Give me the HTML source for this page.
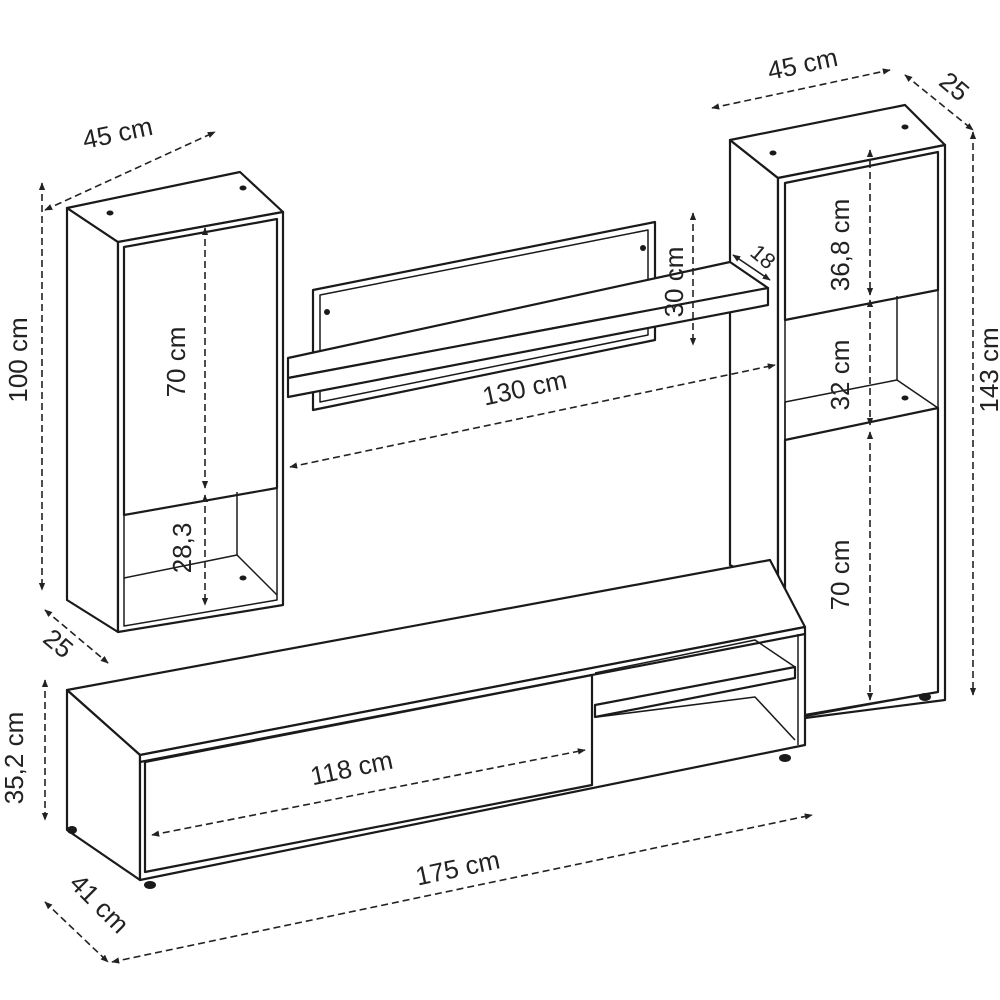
<!DOCTYPE html>
<html><head><meta charset="utf-8"><style>html,body{margin:0;background:#fff}svg{display:block}</style></head><body>
<svg width="1000" height="1000" viewBox="0 0 1000 1000" xmlns="http://www.w3.org/2000/svg">
<defs>
<marker id="a" viewBox="0 0 10 10" refX="9" refY="5" markerWidth="5" markerHeight="5" orient="auto-start-reverse"><path d="M0,1 L10,5 L0,9z" fill="#222"/></marker>
</defs>
<g fill="#fff" stroke="#1a1a1a" stroke-width="2.2" stroke-linejoin="round">
<!-- wall panel -->
<polygon points="313,290 655,222 655,340 313,410"/>
<polygon points="320,295 648,230 648,335 320,402" fill="none" stroke-width="1.5"/>
<!-- left cabinet -->
<polygon points="67,208 118,242 118,632 67,600"/>
<polygon points="67,208 240,172 283,212 118,242"/>
<polygon points="118,242 283,212 283,605 118,632"/>
<polygon points="124,247 277,219 277,600 124,626" fill="none" stroke-width="1.5"/>
<polygon points="124,247 277,219 277,488 124,515"/>
<polyline points="124,578 237,555 277,595" fill="none" stroke-width="1.5"/>
<line x1="237" y1="492" x2="237" y2="555" stroke-width="1.5"/>
<!-- right cabinet -->
<polygon points="730,140 778,178 778,590 730,565"/>
<polygon points="730,140 905,105 945,145 778,178"/>
<polygon points="778,178 945,145 945,700 805,718 785,718 778,600"/>
<polygon points="785,183 938,152 938,692 785,720" fill="none" stroke-width="1.5"/>
<polygon points="785,183 938,152 938,290 785,320"/>
<polygon points="785,402 897,380 938,408 785,440" fill="none" stroke-width="1.5"/>
<line x1="897" y1="296" x2="897" y2="380" stroke-width="1.5"/>
<polygon points="785,440 938,408 938,692 805,715 785,715"/>
<!-- shelf -->
<polygon points="288,358 730,262 768,288 288,378"/>
<polygon points="288,378 768,288 768,305 288,397"/>
<!-- TV stand -->
<polygon points="67,690 770,560 805,627 140,755"/>
<polygon points="67,690 140,755 140,880 67,830"/>
<polygon points="140,755 805,627 805,745 140,880"/>
<polygon points="140,762 805,634" fill="none"/>
<polygon points="145,762 592,675 592,785 145,872"/>
<polygon points="595,705 795,667 795,678 595,717"/>
<polyline points="595,673 755,640 795,667" fill="none" stroke-width="1.5"/>
<polyline points="597,717 755,697 795,740" fill="none" stroke-width="1.5"/>
<line x1="798" y1="634" x2="798" y2="745" stroke-width="1.5"/>
</g>
<g fill="#1a1a1a">
<ellipse cx="110" cy="213" rx="3.5" ry="2.5"/><ellipse cx="243" cy="188" rx="3.5" ry="2.5"/><ellipse cx="243" cy="578" rx="3.5" ry="2.5"/>
<ellipse cx="773" cy="153" rx="3.5" ry="2.5"/><ellipse cx="905" cy="127" rx="3.5" ry="2.5"/><ellipse cx="905" cy="398" rx="3.5" ry="2.5"/>
<circle cx="327" cy="312" r="3"/><circle cx="643" cy="248" r="3"/>
<ellipse cx="150" cy="885" rx="6" ry="4"/><ellipse cx="785" cy="758" rx="6" ry="4"/><ellipse cx="72" cy="830" rx="5" ry="4"/><ellipse cx="925" cy="697" rx="6" ry="4"/>
</g>
<g stroke="#222" stroke-width="1.6" stroke-dasharray="7,4" fill="none" marker-start="url(#a)" marker-end="url(#a)">
<line x1="45" y1="210" x2="215" y2="132"/>
<line x1="42" y1="183" x2="42" y2="590"/>
<line x1="45" y1="610" x2="108" y2="663"/>
<line x1="205" y1="228" x2="205" y2="488"/>
<line x1="205" y1="495" x2="205" y2="605"/>
<line x1="290" y1="467" x2="775" y2="365"/>
<line x1="693" y1="213" x2="693" y2="345"/>
<line x1="733" y1="255" x2="770" y2="280" stroke-dasharray="none"/>
<line x1="712" y1="108" x2="890" y2="70"/>
<line x1="905" y1="75" x2="973" y2="130"/>
<line x1="973" y1="132" x2="973" y2="695"/>
<line x1="870" y1="150" x2="870" y2="295"/>
<line x1="870" y1="300" x2="870" y2="425"/>
<line x1="870" y1="432" x2="870" y2="700"/>
<line x1="45" y1="680" x2="45" y2="820"/>
<line x1="45" y1="902" x2="108" y2="962"/>
<line x1="152" y1="835" x2="585" y2="750"/>
<line x1="112" y1="962" x2="812" y2="815"/>
</g>
<g font-family="'Liberation Sans',sans-serif" font-size="26" fill="#222" text-anchor="middle" dominant-baseline="middle">
<text transform="translate(118,135) rotate(-12)">45 cm</text>
<text transform="translate(20,360) rotate(-90)">100 cm</text>
<text transform="translate(57,645) rotate(40)">25</text>
<text transform="translate(178,362) rotate(-90)">70 cm</text>
<text transform="translate(184,548) rotate(-90)">28,3</text>
<text transform="translate(525,390) rotate(-12)">130 cm</text>
<text transform="translate(676,282) rotate(-90)">30 cm</text>
<text transform="translate(762,258) rotate(40)" font-size="22">18</text>
<text transform="translate(803,66) rotate(-12)">45 cm</text>
<text transform="translate(953,88) rotate(40)">25</text>
<text transform="translate(991,370) rotate(-90)">143 cm</text>
<text transform="translate(842,245) rotate(-90)">36,8 cm</text>
<text transform="translate(842,375) rotate(-90)">32 cm</text>
<text transform="translate(842,575) rotate(-90)">70 cm</text>
<text transform="translate(16,758) rotate(-90)">35,2 cm</text>
<text transform="translate(98,905) rotate(45)">41 cm</text>
<text transform="translate(352,770) rotate(-12)">118 cm</text>
<text transform="translate(458,870) rotate(-12)">175 cm</text>
</g>
</svg>
</body></html>
